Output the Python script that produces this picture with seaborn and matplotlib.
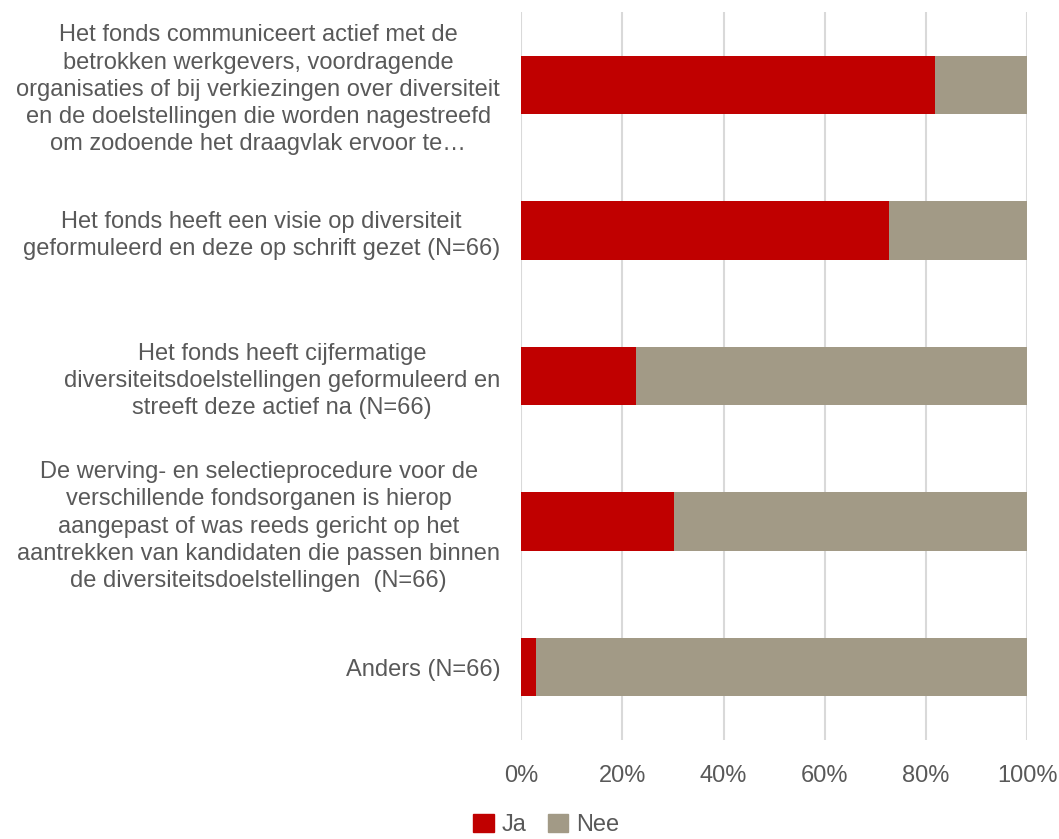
import matplotlib
matplotlib.use('Agg')
import matplotlib.pyplot as plt
import matplotlib.patches as mpatches
import seaborn as sns
import pandas as pd

categories = [
    "Het fonds communiceert actief met de\nbetrokken werkgevers, voordragende\norganisaties of bij verkiezingen over diversiteit\nen de doelstellingen die worden nagestreefd\nom zodoende het draagvlak ervoor te\u2026",
    "Het fonds heeft een visie op diversiteit\ngeformuleerd en deze op schrift gezet (N=66)",
    "Het fonds heeft cijfermatige\ndiversiteitsdoelstellingen geformuleerd en\nstreeft deze actief na (N=66)",
    "De werving- en selectieprocedure voor de\nverschillende fondsorganen is hierop\naangepast of was reeds gericht op het\naantrekken van kandidaten die passen binnen\nde diversiteitsdoelstellingen  (N=66)",
    "Anders (N=66)",
]
ja = [81.8, 72.7, 22.7, 30.3, 3.0]
nee = [18.2, 27.3, 77.3, 69.7, 97.0]
ticks = [0, 20, 40, 60, 80, 100]

red = '#C00000'
gray = '#A29A86'
txt = '#595959'

sns.set_style('white')
plt.rcParams['font.family'] = ['Liberation Sans', 'DejaVu Sans']

df = pd.DataFrame({'cat': categories, 'Ja': ja, 'Nee': nee})
df['total'] = df['Ja'] + df['Nee']

fig, ax = plt.subplots(figsize=(10.59, 8.39), dpi=100)
sns.barplot(data=df, x='total', y='cat', color=gray, width=0.4, ax=ax, saturation=1, linewidth=0)
sns.barplot(data=df, x='Ja', y='cat', color=red, width=0.4, ax=ax, saturation=1, linewidth=0)

ax.set_xlim(0, 100)
ax.set_ylim(4.5, -0.5)
ax.set_xticks(ticks)
ax.set_xticklabels([f'{t}%' for t in ticks], fontsize=17, color=txt)
ax.tick_params(axis='x', length=0, pad=18)
ax.tick_params(axis='y', length=0, pad=15)
for lab in ax.get_yticklabels():
    lab.set_fontsize(17)
    lab.set_color(txt)
    lab.set_multialignment('center')
    lab.set_linespacing(1.31)
ax.set_xlabel('')
ax.set_ylabel('')
ax.grid(axis='x', color='#D9D9D9', linewidth=1.5)
ax.set_axisbelow(True)
for s in ax.spines.values():
    s.set_visible(False)

patches = [mpatches.Patch(color=red, label='Ja'), mpatches.Patch(color=gray, label='Nee')]
fig.legend(handles=patches, loc='lower center', bbox_to_anchor=(0.516, -0.022), ncol=2, frameon=False,
           fontsize=17, labelcolor=txt, handlelength=0.85, handleheight=0.85, handletextpad=0.35,
           columnspacing=0.9)

plt.subplots_adjust(left=0.492, right=0.970, top=0.9857, bottom=0.118)
plt.savefig('out.png', dpi=100)
